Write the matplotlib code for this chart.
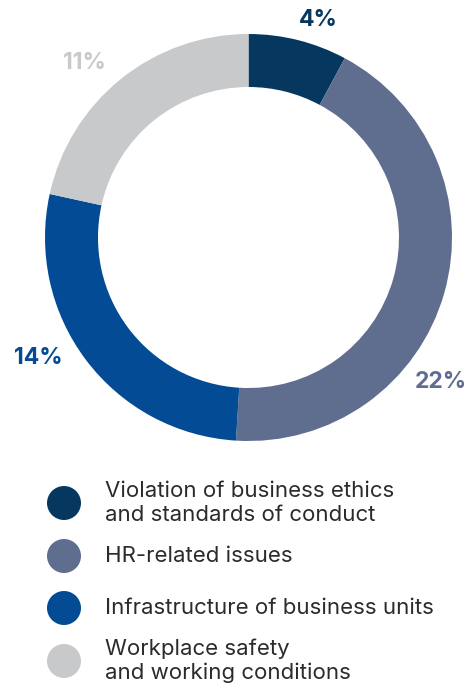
import matplotlib.pyplot as plt
from matplotlib.patches import Circle

# Shares of complaints by topic
categories = [
    "Violation of business ethics\nand standards of conduct",
    "HR-related issues",
    "Infrastructure of business units",
    "Workplace safety\nand working conditions",
]
values = [4, 22, 14, 11]
labels = ["4%", "22%", "14%", "11%"]
colors = ["#06375f", "#5f6d8f", "#044b96", "#c8c9cb"]

W, H = 472, 689
fig = plt.figure(figsize=(W / 100, H / 100), dpi=100)
ax = fig.add_axes([0, 0, 1, 1])

# donut, in pixel coordinates (y up)
cx, cy, r = 248.5, H - 237.5, 203.5
ax.pie(values, colors=colors, startangle=90, counterclock=False,
       center=(cx, cy), radius=r,
       wedgeprops=dict(width=53, linewidth=0))

# percentage labels
label_pos = [(318, 20), (441, 382), (38, 358), (84, 63)]
for txt, (px, py), c in zip(labels, label_pos, colors):
    ax.text(px, H - py, txt, color=c, fontsize=16.5, fontweight="bold",
            family="Inter", ha="center", va="center")

# legend
leg_y = [503, 556, 608, 661]
for name, c, py in zip(categories, colors, leg_y):
    ax.add_patch(Circle((64, H - py), 17, color=c, lw=0))
    ax.text(105, H - py, name, color="#2b2b2b", fontsize=16,
            family="Inter", ha="left", va="center", linespacing=1.22)

ax.set_xlim(0, W)
ax.set_ylim(0, H)
ax.set_aspect("auto")
ax.axis("off")

fig.savefig("out.png", dpi=100)
